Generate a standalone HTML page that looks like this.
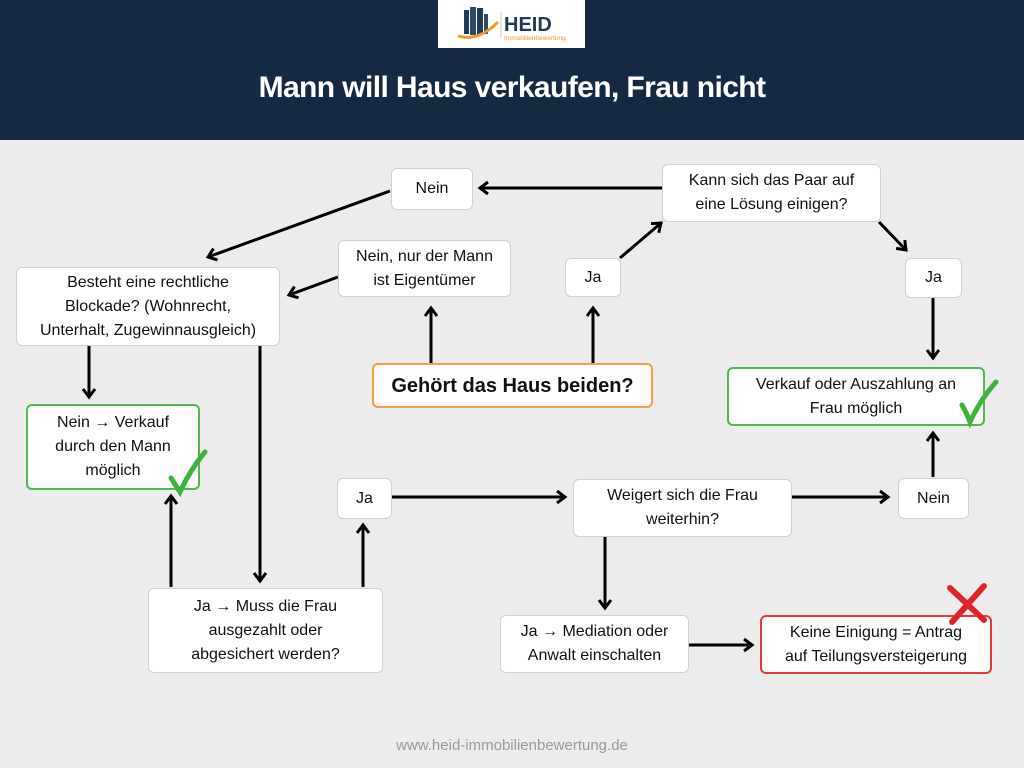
<!DOCTYPE html>
<html><head><meta charset="utf-8"><style>
*{margin:0;padding:0;box-sizing:border-box}
body{width:1024px;height:768px;background:#ececec;font-family:"Liberation Sans",sans-serif;position:relative;overflow:hidden}
.hdr{position:absolute;left:0;top:0;width:1024px;height:140px;background:#152a42}
.logo{position:absolute;left:438px;top:0;width:147px;height:48px;background:#fff}
.title{position:absolute;left:0;top:71px;width:1024px;text-align:center;color:#fff;font-weight:bold;font-size:30px;letter-spacing:-0.6px}
.b{position:absolute;background:#fff;border:1.5px solid #cfcfcf;border-radius:6px;display:flex;align-items:center;justify-content:center;text-align:center;font-size:16px;line-height:24px;color:#111}
.g{border:2px solid #4cbb4c}
.r{border:2px solid #e43a3a}
.o{border:2px solid #f3a040;font-weight:bold;font-size:20px}
.foot{position:absolute;left:0;top:737px;width:1024px;text-align:center;color:#9a9a9a;font-size:15px}
svg{position:absolute;left:0;top:0}
</style></head><body>
<div class="hdr"></div>
<div class="logo">
<svg width="147" height="48" style="position:absolute;left:0;top:0">
<rect x="26" y="10" width="5" height="24" fill="#1f3a5c"/><rect x="32" y="7" width="6" height="28" fill="#2b4a70"/><rect x="39" y="8" width="6" height="27" fill="#1f3a5c"/><rect x="46" y="14" width="4" height="20" fill="#2b4a70"/>
<path d="M20 36 Q40 42 60 22" stroke="#f29a2e" stroke-width="3" fill="none"/>
<line x1="63" y1="12" x2="63" y2="38" stroke="#ccc"/>
<text x="66" y="31" font-family="Liberation Sans" font-weight="bold" font-size="20" fill="#1f3a5c">HEID</text>
<text x="66" y="40" font-family="Liberation Sans" font-size="6.5" fill="#f29a2e">Immobilienbewertung</text>
</svg></div>
<div class="title">Mann will Haus verkaufen, Frau nicht</div>

<svg width="1024" height="768">
<defs><marker id="a" markerWidth="16" markerHeight="16" refX="10" refY="7" orient="auto" markerUnits="userSpaceOnUse"><path d="M2 1 L10 7 L2 13" fill="none" stroke="#000" stroke-width="3"/></marker></defs>
<g stroke="#000" stroke-width="3" fill="none" marker-end="url(#a)">
<line x1="662" y1="188" x2="480" y2="188"/>
<line x1="390" y1="191" x2="208" y2="257"/>
<line x1="338" y1="277" x2="289" y2="295"/>
<line x1="431" y1="363" x2="431" y2="308"/>
<line x1="593" y1="363" x2="593" y2="308"/>
<line x1="620" y1="258" x2="661" y2="223"/>
<line x1="879" y1="222" x2="906" y2="250"/>
<line x1="933" y1="297" x2="933" y2="358"/>
<line x1="89" y1="346" x2="89" y2="397"/>
<line x1="260" y1="346" x2="260" y2="581"/>
<line x1="171" y1="587" x2="171" y2="496"/>
<line x1="363" y1="587" x2="363" y2="525"/>
<line x1="391" y1="497" x2="565" y2="497"/>
<line x1="791" y1="497" x2="888" y2="497"/>
<line x1="933" y1="477" x2="933" y2="433"/>
<line x1="605" y1="536" x2="605" y2="608"/>
<line x1="688" y1="645" x2="752" y2="645"/>
</g>
</svg>

<div class="b" style="left:391px;top:168px;width:82px;height:42px">Nein</div>
<div class="b" style="left:662px;top:164px;width:219px;height:58px">Kann sich das Paar auf<br>eine Lösung einigen?</div>
<div class="b" style="left:338px;top:240px;width:173px;height:57px">Nein, nur der Mann<br>ist Eigentümer</div>
<div class="b" style="left:565px;top:258px;width:56px;height:39px">Ja</div>
<div class="b" style="left:905px;top:258px;width:57px;height:40px">Ja</div>
<div class="b" style="left:16px;top:267px;width:264px;height:79px">Besteht eine rechtliche<br>Blockade? (Wohnrecht,<br>Unterhalt, Zugewinnausgleich)</div>
<div class="b o" style="left:372px;top:363px;width:281px;height:45px">Gehört das Haus beiden?</div>
<div class="b g" style="left:727px;top:367px;width:258px;height:59px">Verkauf oder Auszahlung an<br>Frau möglich</div>
<div class="b g" style="left:26px;top:404px;width:174px;height:86px">Nein → Verkauf<br>durch den Mann<br>möglich</div>
<div class="b" style="left:337px;top:478px;width:55px;height:41px">Ja</div>
<div class="b" style="left:573px;top:479px;width:219px;height:58px">Weigert sich die Frau<br>weiterhin?</div>
<div class="b" style="left:898px;top:478px;width:71px;height:41px">Nein</div>
<div class="b" style="left:148px;top:588px;width:235px;height:85px">Ja → Muss die Frau<br>ausgezahlt oder<br>abgesichert werden?</div>
<div class="b" style="left:500px;top:615px;width:189px;height:58px">Ja → Mediation oder<br>Anwalt einschalten</div>
<div class="b r" style="left:760px;top:615px;width:232px;height:59px">Keine Einigung = Antrag<br>auf Teilungsversteigerung</div>

<svg width="1024" height="768">
<path d="M171 478 Q176 486 180 492 Q190 470 205 452" stroke="#3cb43c" stroke-width="5" fill="none" stroke-linecap="round"/>
<path d="M962 405 Q967 414 970 422 Q980 400 996 382" stroke="#3cb43c" stroke-width="5" fill="none" stroke-linecap="round"/>
<path d="M950 588 L984 620 M984 586 L952 622" stroke="#e02424" stroke-width="6" stroke-linecap="round"/>
</svg>
<div class="foot">www.heid-immobilienbewertung.de</div>
</body></html>
